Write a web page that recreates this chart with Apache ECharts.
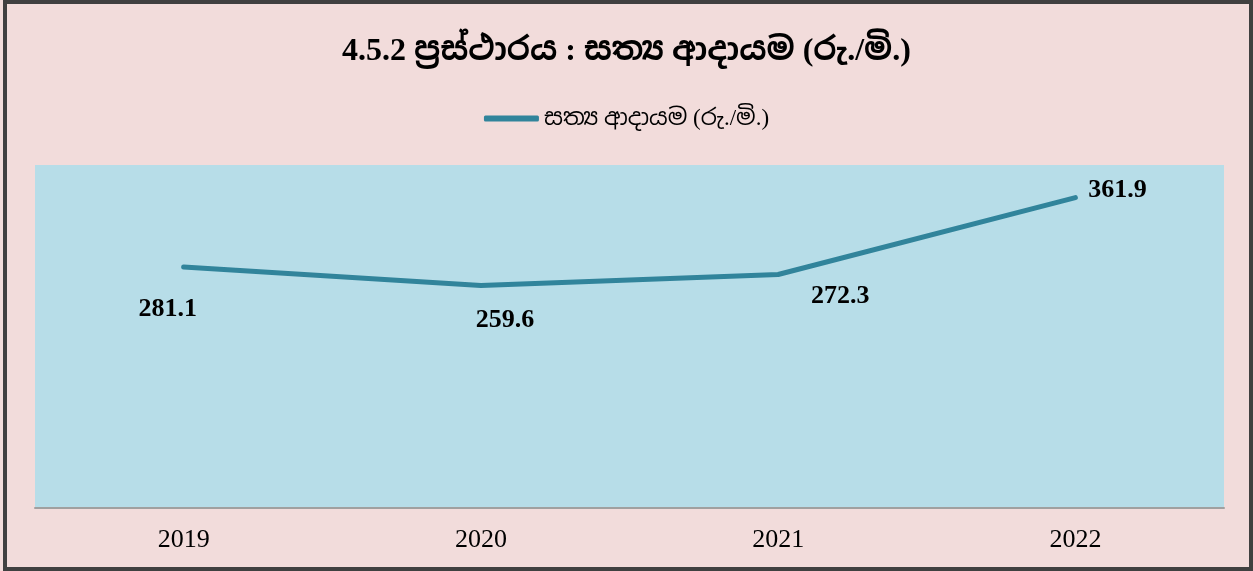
<!DOCTYPE html>
<html>
<head>
<meta charset="utf-8">
<script src="https://cdn.jsdelivr.net/npm/echarts@6/dist/echarts.min.js"></script>
<style>
    html, body { margin: 0; padding: 0; background: #fff; }
    #chart { position: absolute; left: 0; top: 0; width: 1253px; height: 571px; }
    #frame {
        position: absolute; left: 3px; top: 0; width: 1250px; height: 571px;
        box-sizing: border-box; border: 4px solid #404040; pointer-events: none;
    }
</style>
</head>
<body>
<div id="chart"></div>
<div id="frame"></div>
<script>
// chart data
const years = ['2019', '2020', '2021', '2022'];
const realIncome = [281.1, 259.6, 272.3, 361.9];
const labelOffsets = [[-16, 42], [24, 35], [62, 22], [42, -7]];

const seriesName = 'සත්‍ය ආදායම (රු./මි.)';
const titleText = '4.5.2 ප්‍රස්ථාරය : සත්‍ය ආදායම (රු./මි.)';
const serif = "'Liberation Serif', 'Noto Sans Sinhala', 'Iskoola Pota', serif";

const chart = echarts.init(document.getElementById('chart'));

chart.setOption({
    backgroundColor: '#F2DCDB',
    title: {
        text: titleText,
        left: 'center',
        top: 31,
        textStyle: { fontFamily: serif, fontSize: 32, fontWeight: 'bold', color: '#000' }
    },
    legend: {
        top: 102,
        left: 'center',
        itemWidth: 55,
        itemHeight: 6,
        itemGap: 10,
        icon: 'roundRect',
        textStyle: { fontFamily: serif, fontSize: 23, color: '#000' },
        data: [seriesName]
    },
    grid: {
        show: true,
        left: 35,
        right: 29,
        top: 165,
        bottom: 63,
        backgroundColor: '#B7DDE8',
        borderWidth: 0
    },
    xAxis: {
        type: 'category',
        boundaryGap: true,
        data: years,
        axisTick: { show: false },
        axisLine: { lineStyle: { color: '#A0A0A0', width: 2 } },
        axisLabel: { fontFamily: serif, fontSize: 26, color: '#000', margin: 19 }
    },
    yAxis: {
        type: 'value',
        min: 0,
        max: 400,
        show: false,
        splitLine: { show: false }
    },
    series: [{
        name: seriesName,
        type: 'line',
        data: realIncome.map((v, i) => ({
            value: v,
            label: { offset: labelOffsets[i] }
        })),
        symbol: 'circle',
        symbolSize: 0,
        showSymbol: true,
        lineStyle: { color: '#31849B', width: 5, cap: 'round' },
        itemStyle: { color: '#31849B' },
        label: {
            show: true,
            position: 'inside',
            fontFamily: serif,
            fontSize: 26,
            fontWeight: 'bold',
            color: '#000',
            formatter: p => p.value.toFixed(1)
        },
        animation: false
    }]
});
</script>
</body>
</html>
